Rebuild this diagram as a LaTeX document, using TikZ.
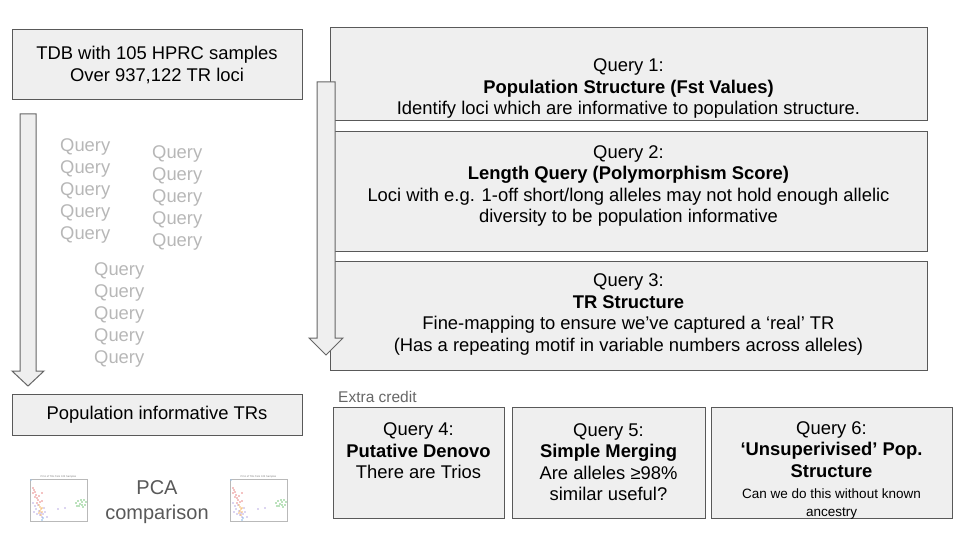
\documentclass[tikz,border=0pt]{standalone}
\usepackage{fontspec}
\setmainfont{Liberation Sans}
\usetikzlibrary{positioning}

\definecolor{boxfill}{HTML}{EFEFEF}
\definecolor{boxline}{HTML}{595959}
\definecolor{arrowline}{HTML}{666666}
\definecolor{ghosttext}{HTML}{B7B7B7}
\definecolor{notetext}{HTML}{666666}
\definecolor{pcared}{HTML}{E06060}
\definecolor{pcapurple}{HTML}{A08CD8}
\definecolor{pcaorange}{HTML}{F2A33A}
\definecolor{pcablue}{HTML}{5A9AD8}
\definecolor{pcagreen}{HTML}{4CAF50}

\begin{document}
\begin{tikzpicture}[
x=1pt, y=-1pt,
box/.style={draw=boxline,fill=boxfill,line width=1pt,inner sep=0pt},
txt/.style={align=center,font=\fontsize{18.4}{21.5}\selectfont},
ghost/.style={anchor=west,inner sep=0pt,text=ghosttext,font=\fontsize{18.4}{22}\selectfont},
bigarrow/.style={draw=arrowline,fill=boxfill,line width=1pt,line join=miter},
pcadot/.style={fill=#1,fill opacity=0.75},
pcaplot/.pic={
	\draw[gray!55,line width=0.3pt] (0,0) rectangle (57,42);
	\node[inner sep=0pt,text=gray,font=\fontsize{2.6}{3}\selectfont] (title) at (28.5,-2.6) {PCA of TRs from 105 Samples};
	\fill[pcablue!60] (1,1) circle (0.8pt);
	\foreach \p in {(3,9),(4,11),(5,13),(3,14),(6,16),(5,18),(7,19),(8,21),(10,23),(12,22),(7,24),(9,17),(12,14)}
		\fill[pcadot=pcared] \p circle (0.8pt);
	\foreach \p in {(3,24),(5,27),(8,26),(6,30),(9,32),(11,34),(13,35),(15,33),(17,38),(12,38),(10,36),(4,33),(7,35),(14,29),(28,30),(35,29)}
		\fill[pcadot=pcapurple] \p circle (0.8pt);
	\foreach \p in {(9,26),(10,28),(11,30),(10,32),(12,33),(9,34),(11,36),(12,29)}
		\fill[pcadot=pcaorange] \p circle (0.8pt);
	\foreach \p in {(12,41),(13,39)}
		\fill[pcadot=pcablue] \p circle (0.8pt);
	\foreach \p in {(46,24),(48,22),(50,25),(52,23),(54,21),(55,26),(53,28),(49,27),(47,27),(56,23),(51,21),(52,26)}
		\fill[pcadot=pcagreen] \p circle (0.8pt);
}
]
\useasboundingbox (0,0) rectangle (960,540);

% left column
\node[box,txt,minimum width=290,minimum height=70] (tdb) at (157,65) {TDB with 105 HPRC samples\\Over 937,122 TR loci};
\node[box,txt,minimum width=290,minimum height=41] (poptr) at (157,414.5) {Population informative TRs};
\draw[bigarrow] (20,114) -- (36,114) -- (36,371) -- (44,371) -- (28,386) -- (12,371) -- (20,371) -- cycle;

% placeholder queries
\foreach \i in {0,...,4}{
	\node[ghost] (ga\i) at (60,{146.7+22*\i}) {Query};
	\node[ghost] (gb\i) at (152,{154+22.1*\i}) {Query};
	\node[ghost] (gc\i) at (94,{270.7+22.1*\i}) {Query};
}

% main queries
\node[box,minimum width=597,minimum height=93] (q1box) at (628.5,74.5) {};
\node[txt] (q1) at (628.5,88.5) {Query 1:\\\textbf{Population Structure (Fst Values)}\\Identify loci which are informative to population structure.};
\node[box,minimum width=597,minimum height=119] (q2box) at (628.5,191.5) {};
\node[txt] (q2) at (628.5,186) {Query 2:\\\textbf{Length Query (Polymorphism Score)}\\Loci with e.g. 1-off short/long alleles may not hold enough allelic\\diversity to be population informative};
\node[box,minimum width=597,minimum height=109] (q3box) at (628.5,315.5) {};
\node[txt] (q3) at (628.5,314.5) {Query 3:\\\textbf{TR Structure}\\Fine-mapping to ensure we’ve captured a ‘real’ TR\\(Has a repeating motif in variable numbers across alleles)};
\draw[bigarrow] (317,82) -- (335,82) -- (335,338) -- (343,338) -- (326,355) -- (309,338) -- (317,338) -- cycle;

% extra credit
\node[anchor=west,inner sep=0pt,text=notetext,font=\fontsize{15.5}{18}\selectfont] (extra) at (338,396.5) {Extra credit};
\node[box,minimum width=171,minimum height=111] (q4box) at (418.5,462.5) {};
\node[txt] (q4) at (418.5,451) {Query 4:\\\textbf{Putative Denovo}\\There are Trios};
\node[box,minimum width=193,minimum height=111] (q5box) at (608.5,462.5) {};
\node[txt] (q5) at (608.5,462) {Query 5:\\\textbf{Simple Merging}\\Are alleles ≥98\%\\similar useful?};
\node[box,minimum width=241,minimum height=111] (q6box) at (831.5,462.5) {};
\node[txt,anchor=north] (q6) at (831.5,418) {Query 6:\\\textbf{‘Unsuperivised’ Pop.}\\\textbf{Structure}\\\fontsize{13.5}{17}\selectfont Can we do this without known\\[-4pt]\fontsize{13.5}{17}\selectfont ancestry};

% pca
\pic (pcaa) at (30,479) {pcaplot};
\node[align=center,text=boxline,font=\fontsize{20}{25}\selectfont] (pca) at (157,502.5) {PCA\\comparison};
\pic (pcab) at (230,479) {pcaplot};
\end{tikzpicture}
\end{document}
